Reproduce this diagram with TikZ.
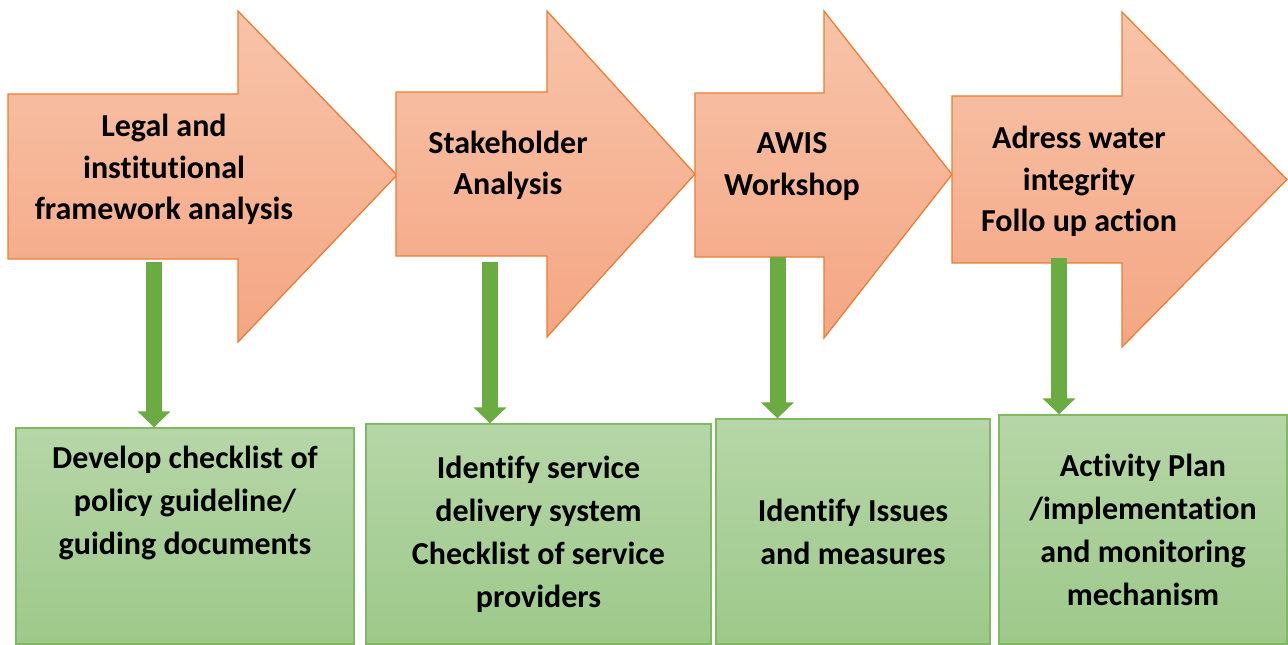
\documentclass[tikz,border=0pt]{standalone}
\usepackage{fontspec}
\setmainfont{Carlito}[Ligatures=NoCommon,Contextuals=NoAlternate]
\usepackage{xcolor}
\usepackage{tikz}
\usetikzlibrary{arrows.meta}

\definecolor{stagetop}{RGB}{248,196,170}
\definecolor{stagebot}{RGB}{244,166,131}
\definecolor{stageedge}{RGB}{237,125,49}
\definecolor{outtop}{RGB}{182,214,167}
\definecolor{outbot}{RGB}{157,201,138}
\definecolor{outedge}{RGB}{128,185,98}
\definecolor{feedgreen}{RGB}{106,172,66}

\begin{document}
\begin{tikzpicture}[x=1pt,y=-1pt,line join=miter,
            font=\fontsize{32}{41.5}\selectfont\bfseries]
        \tikzstyle{stage}=[draw=stageedge,line width=1.3pt,top color=stagetop,bottom color=stagebot]
        \tikzstyle{stagetext}=[align=center,inner sep=0pt]
        \tikzstyle{outcome}=[draw=outedge,line width=1.3pt,top color=outtop,bottom color=outbot,
            align=center,inner sep=0pt,font=\fontsize{32}{43}\selectfont\bfseries]
        \tikzstyle{feed}=[draw=feedgreen,line width=16pt,-{Triangle[length=16pt,width=32pt]}]

        \useasboundingbox (0,0) rectangle (1288,645);

        % process arrows
        \path[stage] (8,94) -- (238,94) -- (238,11) -- (397,175) -- (238,342) -- (238,259) -- (8,259) -- cycle;
        \path[stage] (396,92) -- (547,92) -- (547,11) -- (695,174) -- (547,337) -- (547,256) -- (396,256) -- cycle;
        \path[stage] (695,93) -- (824,93) -- (824,11) -- (952,174.5) -- (824,338) -- (824,257) -- (695,257) -- cycle;
        \path[stage] (952,96) -- (1122,96) -- (1122,12) -- (1287,179.5) -- (1122,347) -- (1122,263) -- (952,263) -- cycle;

        \node[stagetext] (legal) at (164,169.5) {Legal and\\institutional\\framework analysis};
        \node[stagetext] (stake) at (508,165.5) {Stakeholder\\Analysis};
        \node[stagetext] (awis) at (792,166.5) {AWIS\\Workshop};
        \node[stagetext] (adress) at (1079,181.5) {Adress water\\integrity\\Follo up action};

        % outcomes
        \node[outcome,minimum width=338pt,minimum height=216pt] (checklist) at (185,536)
            {Develop checklist of\\policy guideline/\\guiding documents\\[29pt]\mbox{}};
        \node[outcome,minimum width=345pt,minimum height=220pt] (delivery) at (538.5,534)
            {Identify service\\delivery system\\Checklist of service\\providers};
        \node[outcome,minimum width=274pt,minimum height=225pt] (issues) at (853,531.5)
            {Identify Issues\\and measures};
        \node[outcome,minimum width=288pt,minimum height=229pt] (plan) at (1143,529.5)
            {Activity Plan\\/implementation\\and monitoring\\mechanism};

        \coordinate (legal-out) at (154,262);
        \coordinate (stake-out) at (490,262);
        \coordinate (awis-out) at (777.5,257);
        \coordinate (adress-out) at (1059,258);

        \draw[feed] (legal-out) -- (legal-out |- checklist.north);
        \draw[feed] (stake-out) -- (stake-out |- delivery.north);
        \draw[feed] (awis-out) -- (awis-out |- issues.north);
        \draw[feed] (adress-out) -- (adress-out |- plan.north);
    \end{tikzpicture}
\end{document}
